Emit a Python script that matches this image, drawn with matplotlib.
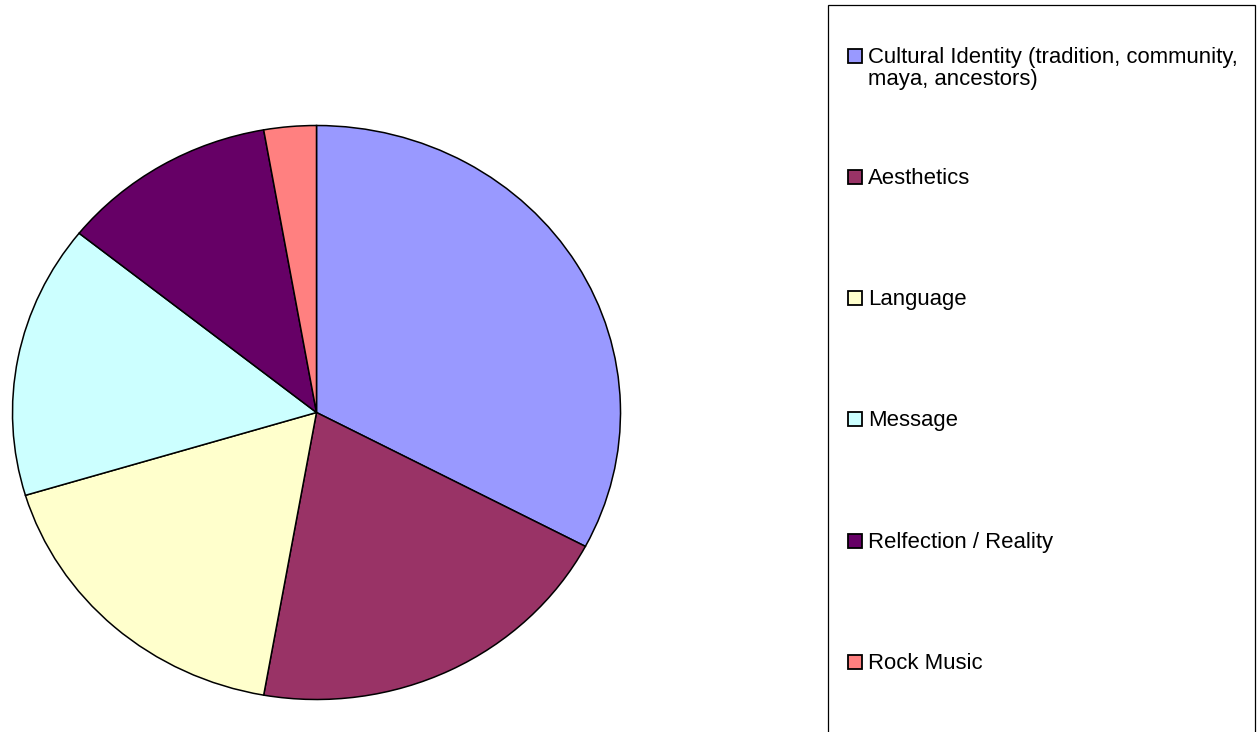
import matplotlib
matplotlib.use('Agg')
import matplotlib.pyplot as plt
from matplotlib.patches import Rectangle
import numpy as np

# data
categories = ['Cultural Identity (tradition, community,\nmaya, ancestors)', 'Aesthetics',
              'Language', 'Message', 'Relfection / Reality', 'Rock Music']
values = [11, 7, 6, 5, 4, 1]
colors = ['#9999FF', '#993366', '#FFFFCC', '#CCFFFF', '#660066', '#FF8080']

plt.rcParams['font.family'] = ['Liberation Sans', 'DejaVu Sans']

W, H = 1258, 732
fig = plt.figure(figsize=(W / 100, H / 100), dpi=100)

# pie is a little wider than tall in the original
cx, cy, rx, ry = 316.5, 412.5, 304, 287
ax = fig.add_axes([(cx - rx) / W, (H - cy - ry) / H, 2 * rx / W, 2 * ry / H])
wedges, _ = ax.pie(values, colors=colors, startangle=90, counterclock=False, radius=1,
                   wedgeprops=dict(edgecolor='black', linewidth=1.1))
ax.set_aspect('auto')
ax.set_xlim(-1, 1)
ax.set_ylim(-1, 1)
ax.axis('off')


# the original keeps the true angles on the stretched ellipse
def stretch(th):
    r = np.radians(th)
    t = np.degrees(np.arctan2(rx * np.sin(r), ry * np.cos(r)))
    return t + 360 * round((th - t) / 360)


for w in wedges:
    t1, t2 = stretch(w.theta1), stretch(w.theta2)
    while t2 <= t1:
        t2 += 360
    w.set_theta1(t1)
    w.set_theta2(t2)

# legend box (runs off the bottom of the picture)
fig.patches.append(Rectangle((828 / W, -0.05), (1255 - 828) / W, (H - 5) / H + 0.05,
                             transform=fig.transFigure, facecolor='white',
                             edgecolor='black', linewidth=0.9))

ys = [56, 177, 298, 419, 541, 662]
for lab, col, y in zip(categories, colors, ys):
    fig.patches.append(Rectangle((848 / W, (H - y - 7) / H), 14 / W, 14 / H,
                                 transform=fig.transFigure, facecolor=col,
                                 edgecolor='black', linewidth=1.3))
    lines = lab.split('\n')
    for i, line in enumerate(lines):
        fig.text(868 / W, (H - y - 7 - 22 * i) / H, line, fontsize=15.9,
                 va='baseline', ha='left', color='black')

fig.savefig('out.png', dpi=100)
